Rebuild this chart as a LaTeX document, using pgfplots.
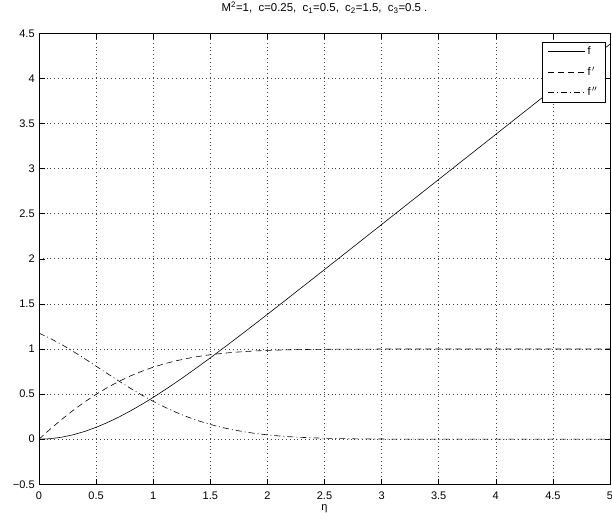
\documentclass[border=0pt]{standalone}
\usepackage{fontspec}
\setmainfont{Liberation Sans}
\usepackage{pgfplots}
\pgfplotsset{compat=1.18}
\usepackage{pgfplotstable}

\pgfplotstableread{
eta f fp fpp
0.0 0.0000 0.0000 1.1760
0.1 0.0057 0.1134 1.1165
0.2 0.0224 0.2207 1.0482
0.3 0.0494 0.3206 0.9728
0.4 0.0861 0.4130 0.8926
0.5 0.1316 0.4972 0.8099
0.6 0.1852 0.5733 0.7264
0.7 0.2459 0.6412 0.6443
0.8 0.3130 0.7009 0.5650
0.9 0.3857 0.7532 0.4898
1.0 0.4633 0.7983 0.4198
1.1 0.5451 0.8366 0.3559
1.2 0.6303 0.8689 0.2981
1.3 0.7186 0.8960 0.2470
1.4 0.8093 0.9182 0.2024
1.5 0.9020 0.9364 0.1638
1.6 0.9964 0.9509 0.1312
1.7 1.0921 0.9626 0.1038
1.8 1.1888 0.9717 0.0813
1.9 1.2863 0.9788 0.0629
2.0 1.3845 0.9844 0.0481
2.1 1.4831 0.9885 0.0364
2.2 1.5822 0.9917 0.0272
2.3 1.6814 0.9940 0.0201
2.4 1.7809 0.9957 0.0147
2.5 1.8806 0.9970 0.0106
2.6 1.9803 0.9979 0.0076
2.7 2.0801 0.9985 0.0054
2.8 2.1800 0.9990 0.0038
2.9 2.2799 0.9993 0.0026
3.0 2.3799 0.9995 0.0018
3.5 2.8798 0.9999 0.0002
4.0 3.3798 1.0000 0.0000
4.5 3.8798 1.0000 0.0000
5.0 4.3798 1.0000 0.0000
}\datatable

\begin{document}
\fontsize{11}{13.2}\selectfont
\begin{tikzpicture}
\begin{axis}[
  scale only axis,
  width=571pt, height=451pt,
  xmin=0, xmax=5, ymin=-0.5, ymax=4.5,
  xtick={0,0.5,1,1.5,2,2.5,3,3.5,4,4.5,5},
  xticklabels={0,0.5,1,1.5,2,2.5,3,3.5,4,4.5,5},
  ytick={-0.5,0,0.5,1,1.5,2,2.5,3,3.5,4,4.5},
  yticklabels={−0.5,0,0.5,1,1.5,2,2.5,3,3.5,4,4.5},
  tick align=inside,
  major tick length=5.5pt,
  xtick pos=both, ytick pos=both,
  xticklabel pos=lower, yticklabel pos=left,
  tick style={black, line width=0.5pt},
  axis line style={black, line width=0.9pt},
  xticklabel style={anchor=base, yshift=-15pt},
  yticklabel style={anchor=east, xshift=-0.5pt},
  grid=major,
  major grid style={black!75, line width=0.6pt, dash pattern=on 0.6pt off 3.2pt},
  xlabel={η},
  xlabel style={at={(axis description cs:0.5,0)}, anchor=base, yshift=-26pt},
  title={M\textsuperscript{2}=1,\ \ c=0.25,\ \ c\textsubscript{1}=0.5,\ \ c\textsubscript{2}=1.5,\ \ c\textsubscript{3}=0.5 .},
  title style={at={(axis description cs:0.5,1)}, anchor=base, yshift=16pt, font=\fontsize{11.4}{13.7}\selectfont},
  legend style={at={(rel axis cs:0.9925,0.981)}, anchor=north east,
    draw=black, line width=0.9pt, fill=white, cells={anchor=west},
    row sep=6.5pt, inner xsep=6pt, inner ysep=2.5pt,
    /tikz/every even column/.append style={column sep=0pt}},
  legend image code/.code={\draw[#1] (0pt,0pt) -- (37pt,0pt);},
]
\addplot[black, line width=0.6pt] table[x=eta, y=f] {\datatable};
\addlegendentry{f}
\addplot[black, line width=0.6pt, dash pattern=on 6pt off 4pt] table[x=eta, y=fp] {\datatable};
\addlegendentry{f$^{\,\prime}$}
\addplot[black, line width=0.6pt, dash pattern=on 6pt off 3pt on 1pt off 3pt] table[x=eta, y=fpp] {\datatable};
\addlegendentry{f$^{\,\prime\prime}$}
\end{axis}
\pgfresetboundingbox
\useasboundingbox (-39pt,-36.7pt) rectangle (573pt,484.3pt);
\end{tikzpicture}
\end{document}
